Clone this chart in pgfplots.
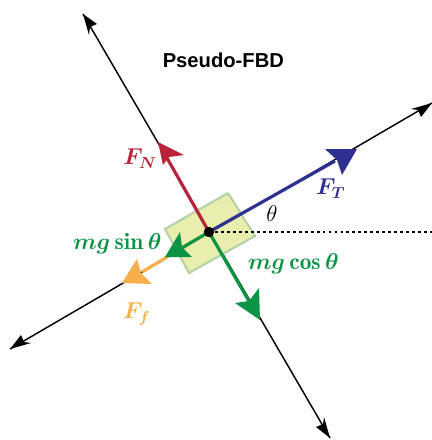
\documentclass[border=0pt]{standalone}
\usepackage{fontspec}
\newfontfamily\titlefont{Liberation Sans}
\usepackage{pgfplots}
\pgfplotsset{compat=1.18}
\definecolor{colfn}{HTML}{B7243A}
\definecolor{colft}{HTML}{2E3192}
\definecolor{colmg}{HTML}{0B9444}
\definecolor{colff}{HTML}{F9AE4C}
\definecolor{blockfill}{HTML}{E9EDAD}
\definecolor{blockedge}{HTML}{B4D3A6}
\begin{document}
\begin{tikzpicture}
\path[use as bounding box] (0,0) rectangle (324bp,330bp);
\begin{axis}[
  at={(0,0)}, anchor=south west,
  scale only axis, width=324bp, height=330bp,
  xmin=0, xmax=432, ymin=0, ymax=440, y dir=reverse,
  hide axis,
]
% axes of the diagram
\addplot[black, line width=1.1pt] coordinates {(83,14) (330,438)};
\addplot[black, line width=1.1pt] coordinates {(10,349) (432,103)};
\addplot[fill=black, draw=none] coordinates {(83,14) (97,24) (90,27) (89,35) (83,14)};
\addplot[fill=black, draw=none] coordinates {(330,438) (316,427) (323,424) (324,417) (330,438)};
\addplot[fill=black, draw=none] coordinates {(10,349) (21,335) (24,342) (31,343) (10,349)};
\addplot[fill=black, draw=none] coordinates {(432,103) (421,117) (418,110) (411,109) (432,103)};
\addplot[black, line width=0.9pt, dash pattern=on 2.2pt off 2.3pt] coordinates {(209,232) (432,232)};
% block
\addplot[fill=blockfill, draw=blockedge, line width=1.6pt] coordinates {(228,193) (255,236) (189,273) (165,229) (228,193)};
\addplot[black, line width=0.9pt, dash pattern=on 2.2pt off 2.3pt] coordinates {(209,232) (255,232)};
% friction
\addplot[colff, line width=2.4pt] coordinates {(209,232) (142,272)};
\addplot[fill=colff, draw=none] coordinates {(122,283) (137,259) (141,273) (152,284) (122,283)};
% mg sin
\addplot[colmg, line width=2.4pt] coordinates {(209,232) (180,249)};
\addplot[fill=colmg, draw=none] coordinates {(165,257) (180,232) (182,247) (192,257) (165,257)};
% mg cos
\addplot[colmg, line width=2.4pt] coordinates {(209,232) (250,303)};
\addplot[fill=colmg, draw=none] coordinates {(260,320) (235,303) (249,301) (259,288) (260,320)};
% normal
\addplot[colfn, line width=2.4pt] coordinates {(209,232) (167,158)};
\addplot[fill=colfn, draw=none] coordinates {(158,142) (184,155) (169,157) (163,165) (158,142)};
% tension
\addplot[colft, line width=2.4pt] coordinates {(209,232) (335,161)};
\addplot[fill=colft, draw=none] coordinates {(357,149) (325,149) (337,160) (342,175) (357,149)};
% centre
\addplot[black, only marks, mark=*, mark size=3.7pt] coordinates {(209,232)};
\end{axis}
% labels
\node[font=\titlefont\bfseries\fontsize{15.2}{16}\selectfont] at (167.5bp,285bp) {Pseudo-FBD};
\node[text=colfn, font=\fontsize{18}{18}\selectfont\boldmath] at (105bp,211bp) {$F_{N}$};
\node[text=colft, font=\fontsize{18}{18}\selectfont\boldmath] at (248bp,188.5bp) {$F_{T}$};
\node[text=colff, font=\fontsize{18}{18}\selectfont\boldmath] at (102.5bp,94.5bp) {$F_{f}$};
\node[text=colmg, font=\fontsize{17.6}{18}\selectfont\boldmath] at (88bp,147.5bp) {$mg\sin\theta$};
\node[text=colmg, font=\fontsize{17.6}{18}\selectfont\boldmath] at (220bp,132.5bp) {$mg\cos\theta$};
\node[text=black, font=\fontsize{18}{18}\selectfont] at (204bp,170bp) {$\theta$};
\end{tikzpicture}
\end{document}
